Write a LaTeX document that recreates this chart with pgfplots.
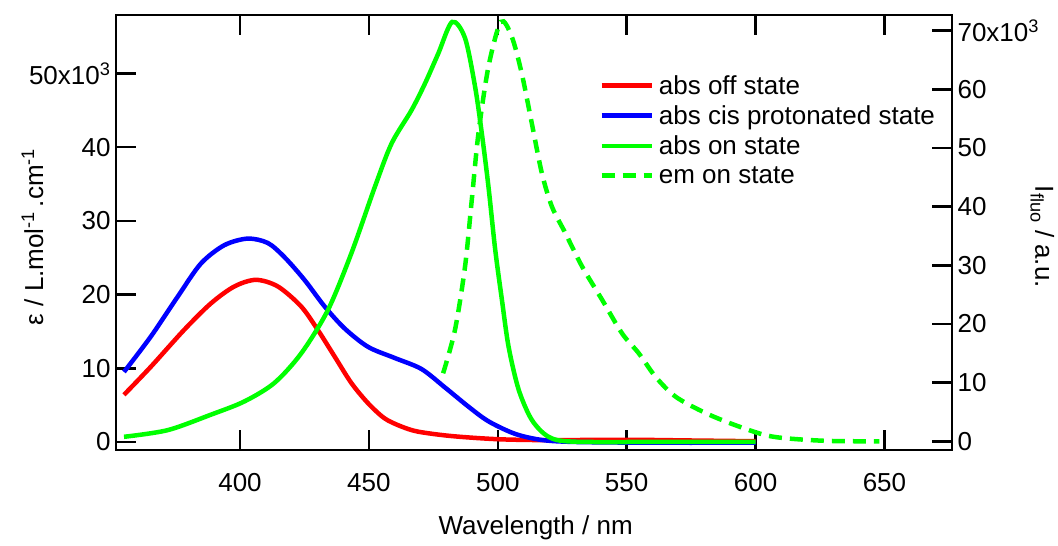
\documentclass[border=0pt]{standalone}
\usepackage{pgfplots}
\pgfplotsset{compat=1.18}
\usepackage{fontspec}
\setmainfont{Liberation Sans}
\definecolor{cR}{RGB}{255,0,0}
\definecolor{cB}{RGB}{0,0,255}
\definecolor{cG}{RGB}{0,255,0}
\begin{document}
\begin{tikzpicture}
\pgfplotsset{
  common/.style={
    scale only axis, width=836pt, height=435pt,
    xmin=351.9, xmax=676.2,
    axis line style={black, line width=2.5pt},
    major tick length=20pt,
    every tick/.style={black, line width=2.5pt},
    tick label style={font=\fontsize{26}{30}\selectfont},
    label style={font=\fontsize{26}{30}\selectfont},
    scaled ticks=false,
  },
}
\begin{axis}[common, name=ax,
  ymin=-1.09, ymax=57.94,
  xtick={400,450,500,550,600,650},
  xticklabels={400,450,500,550,600,650},
  xtick pos=both,
  ytick pos=left,
  ytick={0,10,20,30,40,50},
  yticklabels={0,10,20,30,40,{50x10\textsuperscript{3}}},
  xticklabel style={yshift=-20pt},
  yticklabel style={xshift=-2pt},
  xlabel={Wavelength / nm},
  xlabel style={at={(axis description cs:0.502,-0.179)}, anchor=center},
  ylabel={ε / L.mol\textsuperscript{-1}\,.cm\textsuperscript{-1}},
  ylabel style={at={(axis description cs:-0.1,0.49)}, anchor=center, rotate=0},
]
% abs off state
\addplot[cR, line width=4.5pt, smooth] coordinates {
(355,6.4) (365.4,10.2) (378.3,15.2) (388.7,18.8) (397.8,21.1) (406.2,22.0)
(414.7,21.1) (423.7,18.4) (430.2,15.2) (436.7,11.6) (443.2,8.0) (449.7,5.25)
(456.1,3.2) (462.6,2.1) (469.1,1.4) (482.1,0.8) (500.3,0.37) (520,0.25)
(550,0.3) (575,0.2) (600,0.1)
};
% abs cis protonated state
\addplot[cB, line width=4.5pt, smooth] coordinates {
(355,9.5) (365.4,14.3) (375.8,19.7) (384.8,24.2) (393.9,26.7) (403.0,27.6)
(410.8,27.0) (417.2,25.1) (425.0,22.0) (432.8,18.4) (440.6,15.4) (449.7,12.9)
(460.0,11.4) (470.4,9.9) (479.5,7.4) (488.6,4.8) (496.4,2.8) (506.7,1.1)
(517.1,0.27) (530,0.0) (560,-0.1) (600,-0.1)
};
% abs on state
\addplot[cG, line width=4.5pt, smooth] coordinates {
(355,0.7) (371.9,1.6) (388.7,3.7) (401.7,5.5) (413.3,8.0) (423.7,12.0)
(434.1,17.9) (443.2,25.6) (452.3,34.6) (458.8,40.5) (466.5,45.0) (471.7,48.6)
(476.9,52.7) (482.3,57.0) (487.3,54.8) (491.2,48.2) (493.8,41.9) (496.4,34.6)
(499.0,26.1) (501.6,19.3) (504.2,12.9) (508.1,7.1) (513.2,3.0) (519.7,0.7)
(528.8,0.05) (560,0.0) (600,0.0)
};
\end{axis}
\begin{axis}[common,
  ymin=-1.48, ymax=72.67,
  hide x axis,
  axis y line*=right,
  ytick pos=right,
  ytick={0,10,20,30,40,50,60,70},
  yticklabels={0,10,20,30,40,50,60,{70x10\textsuperscript{3}}},
  yticklabel style={xshift=2pt},
  ylabel={I\textsubscript{fluo} / a.u.},
  ylabel style={at={(axis description cs:1.108,0.49)}, anchor=center, rotate=180},
  legend style={draw=none, fill=none, at={(axis description cs:0.578,0.862)}, anchor=north west,
    font=\fontsize{26}{29.7}\selectfont, row sep=10pt, inner sep=0pt,
    nodes={inner sep=0pt, inner xsep=5pt}},
  legend cell align=left,
  legend image code/.code={\draw[#1] (0pt,0pt) -- (50pt,0pt);},
]
\addlegendimage{cR, line width=4.5pt}
\addlegendentry{abs off state}
\addlegendimage{cB, line width=4.5pt}
\addlegendentry{abs cis protonated state}
\addlegendimage{cG, line width=4.5pt}
\addlegendentry{abs on state}
% em on state
\addplot[cG, line width=4.5pt, dash pattern=on 13pt off 8pt, smooth] coordinates {
(478.8,11.6) (483.4,19.0) (487.3,29.8) (489.9,41.1) (492.5,52.5) (496.4,63.9)
(501.2,71.5) (505.4,69.0) (509.3,62.7) (513.2,54.2) (517.1,45.7) (521.0,40.0)
(526.2,35.5) (532.7,29.8) (540.5,24.1) (548.2,18.4) (554.7,15.0) (561.2,11.0)
(569.0,7.6) (580.7,4.8) (593.7,2.5) (606.6,0.8) (626.1,0.1) (648,0.0)
};
\addlegendentry{em on state}
\end{axis}
\path[use as bounding box] ([xshift=-116pt,yshift=-96pt]ax.south west) rectangle ([xshift=106pt,yshift=15pt]ax.north east);
\end{tikzpicture}
\end{document}
